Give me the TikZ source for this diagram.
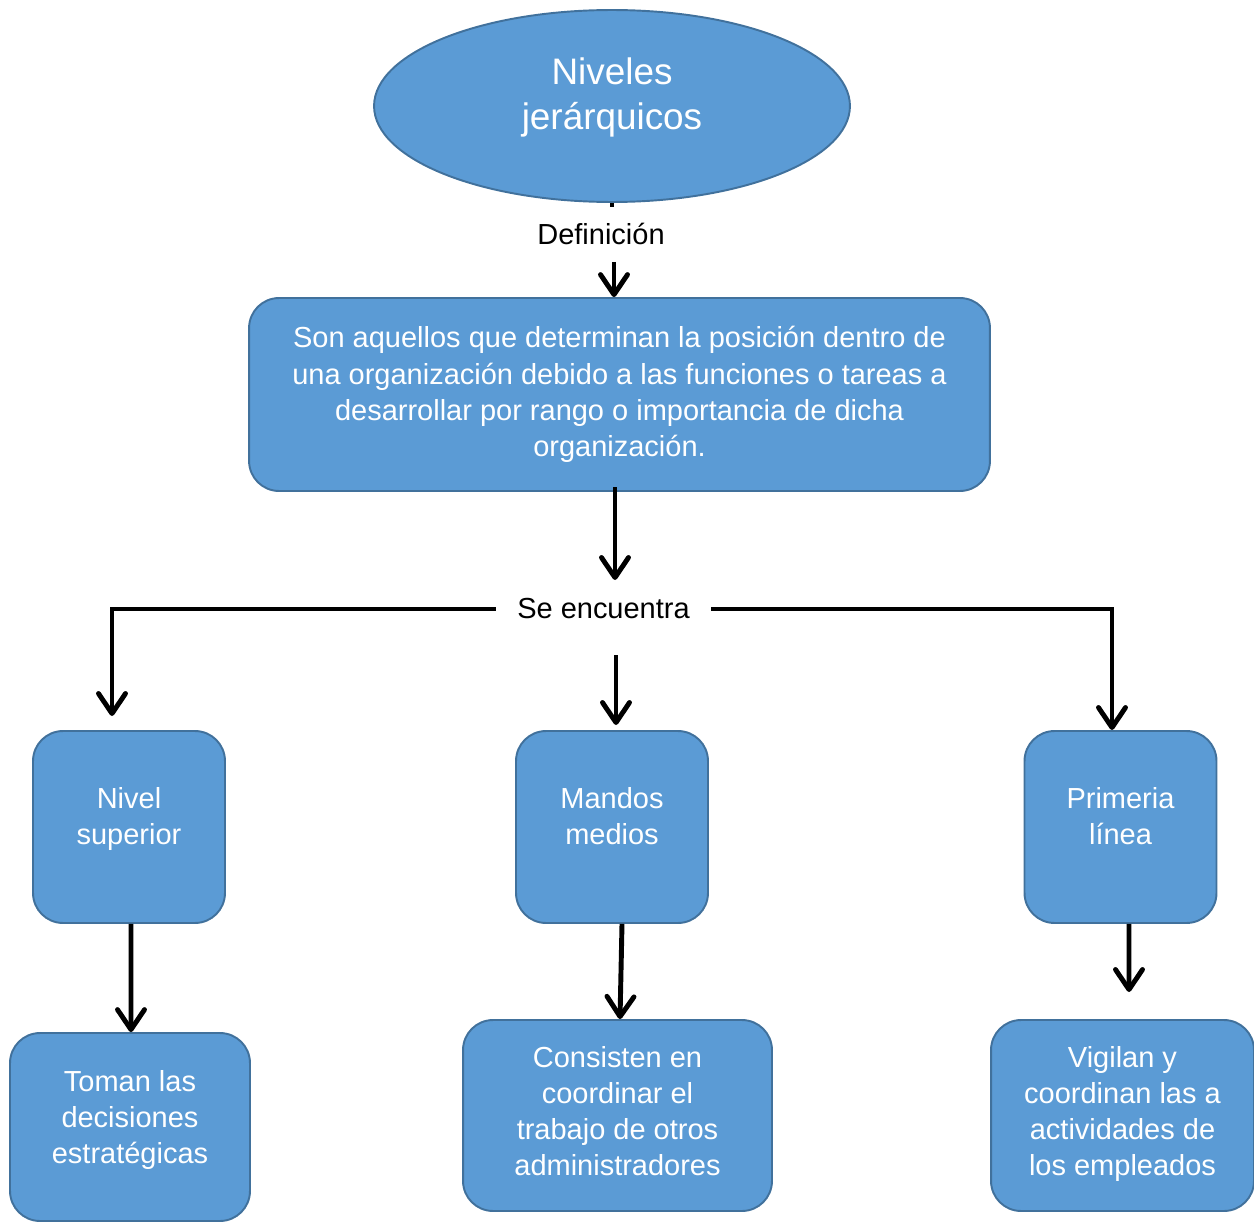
\documentclass[tikz,border=0pt]{standalone}
\usepackage{fontspec}
\setmainfont{Liberation Sans}
\usetikzlibrary{shapes.geometric,arrows.meta}
\definecolor{cajafondo}{HTML}{5B9BD5}
\definecolor{cajaborde}{HTML}{41719C}

\begin{document}
\begin{tikzpicture}[x=0.02cm,y=-0.02cm,
  caja/.style={draw=cajaborde, fill=cajafondo, line width=1.1pt, rounded corners=0.6cm, inner sep=0pt},
  texto/.style={text=white, align=center, font=\fontsize{16.5}{20.6}\selectfont},
  etiqueta/.style={font=\fontsize{16.5}{20}\selectfont, inner sep=0pt},
  flecha/.style={line width=2.8pt, -{Straight Barb[length=4mm,width=5.4mm,round]}}]
\useasboundingbox (0,0) rectangle (1254,1223);
% titulo y definicion
\node[ellipse, draw=cajaborde, fill=cajafondo, line width=1.1pt, inner sep=0pt, minimum width=9.52cm, minimum height=3.84cm, label={[texto, font=\fontsize{21}{26}\selectfont, yshift=0.17cm]center:{Niveles\\jerárquicos}}] (niveles) at (612,106) {};
\coordinate (t1) at (612,207);
\draw[line width=2.8pt] (niveles.south) -- (t1);
\node[etiqueta] (def) at (601,234) {Definición};
\node[caja, texto, minimum width=14.82cm, minimum height=3.86cm] (definicion) at (619.5,394.5) {Son aquellos que determinan la posición dentro de\\una organización debido a las funciones o tareas a\\desarrollar por rango o importancia de dicha\\organización.};
\coordinate (d1) at (614,262);
\draw[flecha] (d1) -- (d1 |- definicion.north);
\coordinate (d2) at (615,487);
\coordinate (d3) at (615,580);
\draw[flecha] (d2) -- (d3);
% se encuentra
\node[etiqueta, inner xsep=0.42cm] (se) at (603.5,609) {Se encuentra};
\coordinate (izq) at (112,716);
\coordinate (der) at (1112,730);
\coordinate (m1) at (616,655);
\coordinate (m2) at (616,725);
\draw[flecha] (se.west) -| (izq);
\draw[flecha] (se.east) -| (der);
\draw[flecha] (m1) -- (m2);
% niveles
\node[caja, minimum width=3.84cm, minimum height=3.84cm, label={[texto, yshift=0.16cm]center:{Nivel\\superior}}] (superior) at (129,827) {};
\node[caja, minimum width=3.84cm, minimum height=3.84cm, label={[texto, yshift=0.22cm]center:{Mandos\\medios}}] (mandos) at (612,827) {};
\node[caja, minimum width=3.84cm, minimum height=3.84cm, label={[texto, yshift=0.22cm]center:{Primeria\\línea}}] (primera) at (1120.5,827) {};
% funciones
\node[caja, minimum width=4.8cm, minimum height=3.76cm, label={[texto, yshift=0.14cm]center:{Toman las\\decisiones\\estratégicas}}] (toman) at (130,1127) {};
\node[caja, minimum width=6.18cm, minimum height=3.82cm, label={[texto, yshift=0.09cm]center:{Consisten en\\coordinar el\\trabajo de otros\\administradores}}] (consisten) at (617.5,1115.5) {};
\node[caja, minimum width=5.26cm, minimum height=3.82cm, label={[texto, yshift=0.03cm]center:{Vigilan y\\coordinan las a\\actividades de\\los empleados}}] (vigilan) at (1122.5,1115.5) {};
\coordinate (p1) at (1129,992);
\draw[flecha] ([xshift=0.04cm]superior.south) -- ([xshift=0.02cm]toman.north);
\draw[flecha] ([xshift=0.2cm]mandos.south) -- ([xshift=0.05cm]consisten.north);
\draw[flecha] ([xshift=0.17cm]primera.south) -- (p1);
\end{tikzpicture}
\end{document}
